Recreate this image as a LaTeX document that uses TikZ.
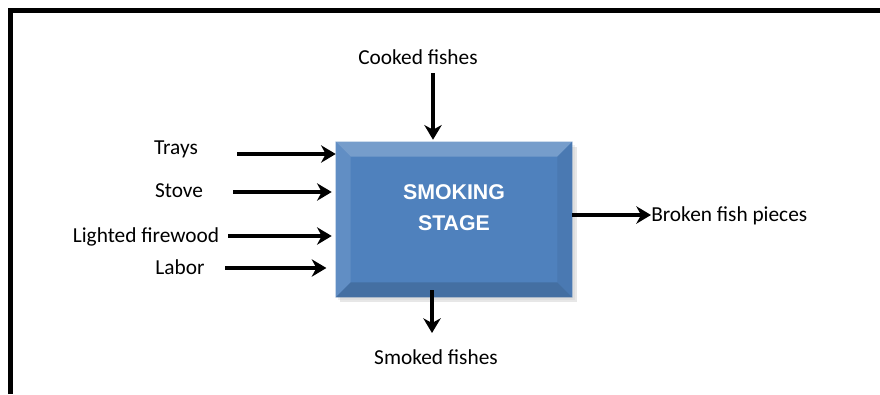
\documentclass[tikz,border=0pt]{standalone}
\usepackage{fontspec}
\setmainfont{Carlito}
\newfontfamily\boxfont{Liberation Sans}
\usetikzlibrary{arrows.meta,calc}
\definecolor{stageblue}{HTML}{4F81BD}
\tikzset{
  io_lbl/.style = {inner sep=0pt, font=\fontsize{16}{19}\selectfont},% texte entree/sortie
  io_arr/.style = {line width=3.4pt, -{Stealth[length=11pt, width=13pt, inset=3.5pt]}},% fleche
  stage_box/.style = {rectangle, inner sep=0pt, fill=stageblue,
    minimum width=177pt, minimum height=116.25pt},% bloc central
  stage_txt/.style = {white, align=center, inner sep=0pt,
    font=\boxfont\bfseries\fontsize{16}{23.25}\selectfont}% texte du bloc
}
\begin{document}
\begin{tikzpicture}[x=0.75pt, y=-0.75pt]
\useasboundingbox (0,0) rectangle (880,394);
\fill[white] (0,0) rectangle (880,394);
% cadre
\draw[line width=3.75pt] (10.5,394) |- (880,10.5);

% ombre puis bloc
\fill[black!30, opacity=.3] (340,147) rectangle (577,302);
\fill[black!20, opacity=.3] (338,145) rectangle (575,300);
\node[stage_box] (stage) at (454,219.5) {};
\fill[stageblue!78!white] (stage.north west) -- (stage.north east)
  -- ($(stage.north east)+(-15,15)$) -- ($(stage.north west)+(15,15)$) -- cycle;
\fill[stageblue!90!white] (stage.north west) -- ($(stage.north west)+(15,15)$)
  -- ($(stage.south west)+(15,-15)$) -- (stage.south west) -- cycle;
\fill[stageblue!94!black] (stage.north east) -- ($(stage.north east)+(-15,15)$)
  -- ($(stage.south east)+(-15,-15)$) -- (stage.south east) -- cycle;
\fill[stageblue!86!black] (stage.south west) -- ($(stage.south west)+(15,-15)$)
  -- ($(stage.south east)+(-15,-15)$) -- (stage.south east) -- cycle;
\node[stage_txt] (stagetxt) at ($(stage.center)+(0,-12)$) {SMOKING\\STAGE};

% entrees gauche
\node[io_lbl] (trays) at (176,149) {Trays};
\node[io_lbl] (stove) at (179,191) {Stove};
\node[io_lbl] (firewood) at (146,237) {Lighted firewood};
\node[io_lbl] (labor) at (180,267) {Labor};
\coordinate (trays_s) at (237,154);
\coordinate (stove_s) at (233,192);
\coordinate (firewood_s) at (228,236);
\coordinate (labor_s) at (225,268);
\draw[io_arr] (trays_s) -- (trays_s -| stage.west);
\draw[io_arr, shorten >=3pt] (stove_s) -- (stove_s -| stage.west);
\draw[io_arr, shorten >=3pt] (firewood_s) -- (firewood_s -| stage.west);
\draw[io_arr, shorten >=7pt] (labor_s) -- (labor_s -| stage.west);

% haut, bas, droite
\node[io_lbl] (cooked) at (418,57) {Cooked fishes};
\coordinate (cooked_s) at (433,73);
\draw[io_arr, shorten >=1.5pt] (cooked_s) -- (cooked_s |- stage.north);
\node[io_lbl] (smoked) at (436,357) {Smoked fishes};
\coordinate (smoked_e) at (432,333);
\draw[io_arr] (smoked_e |- stage.south) ++(0,-7) -- (smoked_e);
\node[io_lbl, anchor=west] (broken) at (651,216) {Broken fish pieces};
\draw[io_arr] (stage.east |- 0,215) -- (broken.west |- 0,215);
\end{tikzpicture}
\end{document}
